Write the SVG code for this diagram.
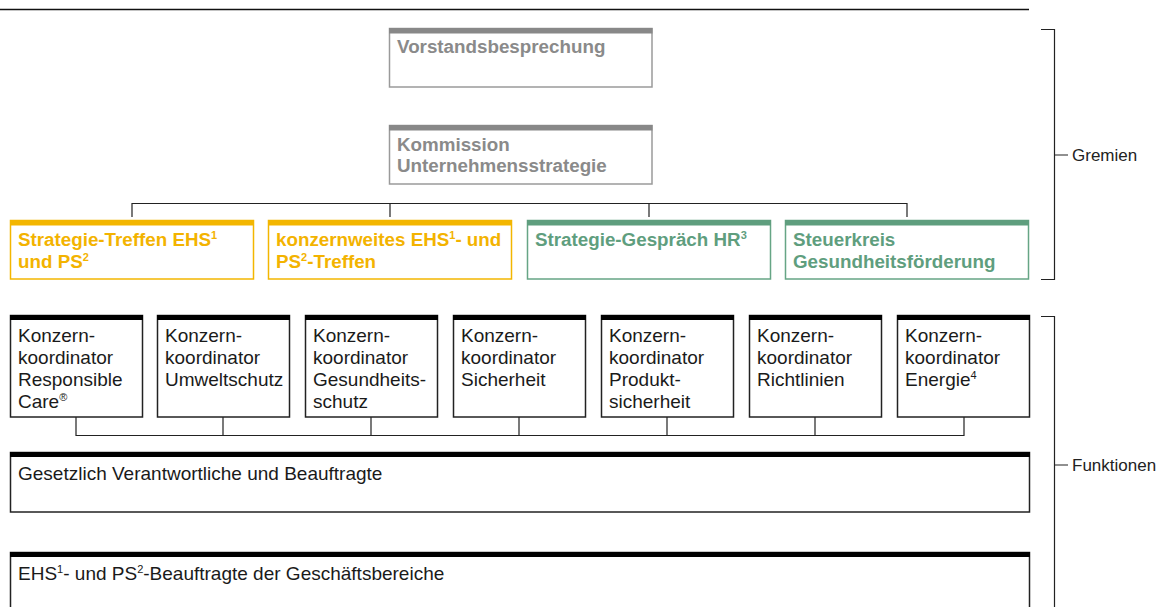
<svg xmlns="http://www.w3.org/2000/svg" width="1164" height="607" viewBox="0 0 1164 607">
<style>
text{font-family:"Liberation Sans",Arial,sans-serif;}
.b{font-weight:bold;font-size:18.8px;}
.r{font-size:19px;fill:#1a1a1a;}
.lab{font-size:17px;fill:#222;}
.sup{font-size:11px;}
.gbox{fill:#fff;stroke:#9a9a9a;stroke-width:1.5;}
.gbar{fill:#888;}
.gt{fill:#8a8a8a;}
.ybox{fill:#fff;stroke:#f3b600;stroke-width:1.5;}
.ybar{fill:#f3b600;}
.yt{fill:#f3b300;}
.vbox{fill:#fff;stroke:#66a585;stroke-width:1.5;}
.vbar{fill:#5f9e7e;}
.vt{fill:#5f9e7e;}
.kbox{fill:#fff;stroke:#222;stroke-width:1.5;}
.kbar{fill:#000;}
.ln{fill:none;stroke:#222;stroke-width:1.2;}
</style>
<rect width="1164" height="607" fill="#fff"/>
<line x1="0" y1="9.5" x2="1029" y2="9.5" stroke="#111" stroke-width="1.5"/>

<g id="connectors" class="ln">
<path d="M132 217V203.5H907V217M390 203.5V217M649 203.5V217"/>
<path d="M76 417V435.5H964V417M223 417V435.5M371 417V435.5M519 417V435.5M667 417V435.5M815 417V435.5"/>
<path d="M1041 29.5H1054.5V279.5H1041M1054.5 155H1068"/>
<path d="M1041 316.5H1054.5V607M1054.5 465H1068"/>
</g>

<g id="gremien-label"><text class="lab" x="1072" y="161">Gremien</text></g>
<g id="funktionen-label"><text class="lab" x="1072" y="471">Funktionen</text></g>

<g id="vorstand">
<rect class="gbox" x="389.5" y="28.5" width="262.5" height="58.5"/>
<rect class="gbar" x="389" y="28" width="263.5" height="5.5"/>
<text class="b gt" x="397" y="53">Vorstandsbesprechung</text>
</g>
<g id="kommission">
<rect class="gbox" x="389.5" y="125.5" width="262.5" height="58.5"/>
<rect class="gbar" x="389" y="125" width="263.5" height="5.5"/>
<text class="b gt" x="397" y="151">Kommission</text>
<text class="b gt" x="397" y="172">Unternehmensstrategie</text>
</g>

<g id="strategie-ehs">
<rect class="ybox" x="10.5" y="220.5" width="243" height="58.5"/>
<rect class="ybar" x="10" y="220" width="244" height="5.5"/>
<text class="b yt" x="18" y="246">Strategie-Treffen EHS<tspan class="sup" dy="-7">1</tspan></text>
<text class="b yt" x="18" y="268">und PS<tspan class="sup" dy="-7">2</tspan></text>
</g>
<g id="konzernweit">
<rect class="ybox" x="268.5" y="220.5" width="243" height="58.5"/>
<rect class="ybar" x="268" y="220" width="244" height="5.5"/>
<text class="b yt" x="276" y="246">konzernweites EHS<tspan class="sup" dy="-7">1</tspan><tspan dy="7">- und</tspan></text>
<text class="b yt" x="276" y="268">PS<tspan class="sup" dy="-7">2</tspan><tspan dy="7">-Treffen</tspan></text>
</g>
<g id="hr">
<rect class="vbox" x="527.5" y="220.5" width="243" height="58.5"/>
<rect class="vbar" x="527" y="220" width="244" height="5.5"/>
<text class="b vt" x="535" y="246">Strategie-Gespräch HR<tspan class="sup" dy="-7">3</tspan></text>
</g>
<g id="steuerkreis">
<rect class="vbox" x="785.5" y="220.5" width="243" height="58.5"/>
<rect class="vbar" x="785" y="220" width="244" height="5.5"/>
<text class="b vt" x="793" y="246">Steuerkreis</text>
<text class="b vt" x="793" y="268">Gesundheitsförderung</text>
</g>

<g id="k1">
<rect class="kbox" x="10.5" y="315.5" width="132" height="101.5"/>
<rect class="kbar" x="10" y="315" width="133" height="5"/>
<text class="r" x="18" y="342">Konzern-<tspan x="18" dy="22">koordinator</tspan><tspan x="18" dy="22">Responsible</tspan><tspan x="18" dy="22">Care</tspan><tspan class="sup" dy="-7">®</tspan></text>
</g>
<g id="k2">
<rect class="kbox" x="157.5" y="315.5" width="132" height="101.5"/>
<rect class="kbar" x="157" y="315" width="133" height="5"/>
<text class="r" x="165" y="342">Konzern-<tspan x="165" dy="22">koordinator</tspan><tspan x="165" dy="22">Umweltschutz</tspan></text>
</g>
<g id="k3">
<rect class="kbox" x="305.5" y="315.5" width="132" height="101.5"/>
<rect class="kbar" x="305" y="315" width="133" height="5"/>
<text class="r" x="313" y="342">Konzern-<tspan x="313" dy="22">koordinator</tspan><tspan x="313" dy="22">Gesundheits-</tspan><tspan x="313" dy="22">schutz</tspan></text>
</g>
<g id="k4">
<rect class="kbox" x="453.5" y="315.5" width="132" height="101.5"/>
<rect class="kbar" x="453" y="315" width="133" height="5"/>
<text class="r" x="461" y="342">Konzern-<tspan x="461" dy="22">koordinator</tspan><tspan x="461" dy="22">Sicherheit</tspan></text>
</g>
<g id="k5">
<rect class="kbox" x="601.5" y="315.5" width="132" height="101.5"/>
<rect class="kbar" x="601" y="315" width="133" height="5"/>
<text class="r" x="609" y="342">Konzern-<tspan x="609" dy="22">koordinator</tspan><tspan x="609" dy="22">Produkt-</tspan><tspan x="609" dy="22">sicherheit</tspan></text>
</g>
<g id="k6">
<rect class="kbox" x="749.5" y="315.5" width="132" height="101.5"/>
<rect class="kbar" x="749" y="315" width="133" height="5"/>
<text class="r" x="757" y="342">Konzern-<tspan x="757" dy="22">koordinator</tspan><tspan x="757" dy="22">Richtlinien</tspan></text>
</g>
<g id="k7">
<rect class="kbox" x="897.5" y="315.5" width="132" height="101.5"/>
<rect class="kbar" x="897" y="315" width="133" height="5"/>
<text class="r" x="905" y="342">Konzern-<tspan x="905" dy="22">koordinator</tspan><tspan x="905" dy="22">Energie</tspan><tspan class="sup" dy="-7">4</tspan></text>
</g>

<g id="gesetzlich">
<rect class="kbox" x="10.5" y="452.5" width="1019" height="59.5"/>
<rect class="kbar" x="10" y="452" width="1020" height="5"/>
<text class="r" x="18" y="480">Gesetzlich Verantwortliche und Beauftragte</text>
</g>
<g id="ehs-beauftragte">
<rect class="kbox" x="10.5" y="552.5" width="1019" height="60"/>
<rect class="kbar" x="10" y="552" width="1020" height="5"/>
<text class="r" x="18" y="580">EHS<tspan class="sup" dy="-7">1</tspan><tspan dy="7">- und PS</tspan><tspan class="sup" dy="-7">2</tspan><tspan dy="7">-Beauftragte der Geschäftsbereiche</tspan></text>
</g>
</svg>
